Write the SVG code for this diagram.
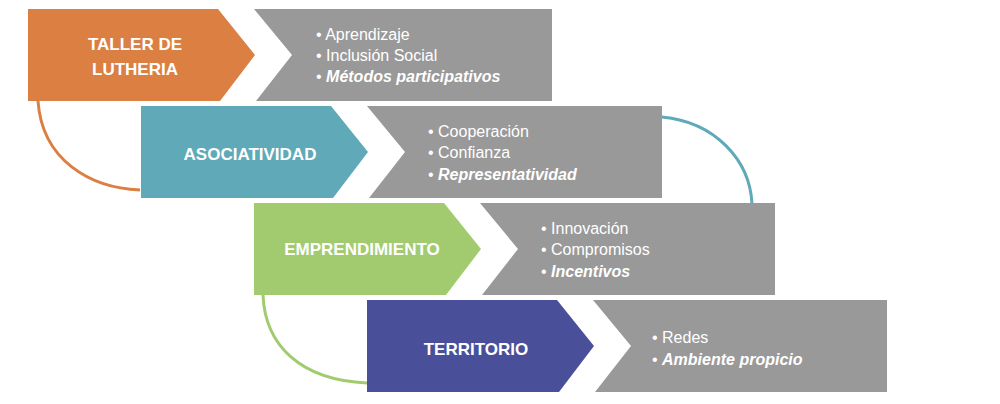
<svg xmlns="http://www.w3.org/2000/svg" width="1000" height="404" viewBox="0 0 1000 404">
<style>
.t{font-family:"Liberation Sans",Arial,sans-serif;font-weight:bold;font-size:17px;fill:#fff;text-anchor:middle}
.b{font-family:"Liberation Sans",Arial,sans-serif;font-size:16px;fill:#fff}
.i{font-weight:bold;font-style:italic}
.g{fill:#999999}
.c{fill:none;stroke-width:3}
</style>
<rect width="1000" height="404" fill="#fff"/>
<g id="connectors">
<path class="c" stroke="#DB7F43" d="M38,101 C42,160 90,188 140,190"/>
<path class="c" stroke="#5FA9B8" d="M662,117 C715,122 750,160 752,204"/>
<path class="c" stroke="#A2CB6F" d="M263,295 C265,345 300,380 367,383"/>
</g>
<g id="n1">
<path d="M28,9H218L255,55L220,101H28Z" fill="#DB7F43"/>
<text class="t" x="135" y="50">TALLER DE</text><text class="t" x="135" y="75">LUTHERIA</text>
<path class="g" d="M254,9H552V101H256L292,55Z"/>
<text class="b" x="316" y="40">• Aprendizaje</text>
<text class="b" x="316" y="61">• Inclusión Social</text>
<text class="b" x="316" y="82">• <tspan class="i">Métodos participativos</tspan></text>
</g>
<g id="n2">
<path d="M141,106H331L368,152L333,198H141Z" fill="#5FA9B8"/>
<text class="t" x="250" y="160">ASOCIATIVIDAD</text>
<path class="g" d="M367,106H662V198H369L405,152Z"/>
<text class="b" x="428" y="137">• Cooperación</text>
<text class="b" x="428" y="158">• Confianza</text>
<text class="b" x="428" y="180">• <tspan class="i">Representatividad</tspan></text>
</g>
<g id="n3">
<path d="M254,203H444L481,249L446,295H254Z" fill="#A2CB6F"/>
<text class="t" x="362" y="255">EMPRENDIMIENTO</text>
<path class="g" d="M480,203H775V295H482L518,249Z"/>
<text class="b" x="541" y="234">• Innovación</text>
<text class="b" x="541" y="255">• Compromisos</text>
<text class="b" x="541" y="277">• <tspan class="i">Incentivos</tspan></text>
</g>
<g id="n4">
<path d="M367,300H557L594,346L559,392H367Z" fill="#4A4F9A"/>
<text class="t" x="476" y="355">TERRITORIO</text>
<path class="g" d="M593,300H887V392H595L631,346Z"/>
<text class="b" x="652" y="343">• Redes</text>
<text class="b" x="652" y="365">• <tspan class="i">Ambiente propicio</tspan></text>
</g>
</svg>
